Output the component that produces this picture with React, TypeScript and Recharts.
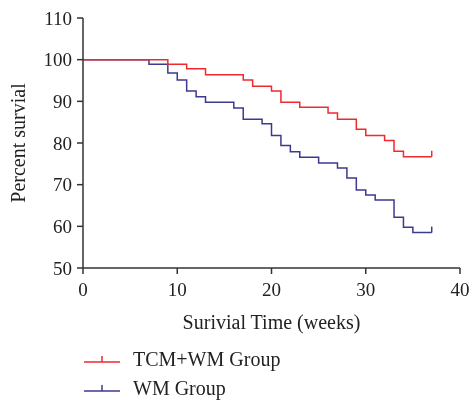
import { Line, LineChart, XAxis, YAxis } from 'recharts'

const RED = '#ee2a2e'
const BLUE = '#3d3a8e'
const FONT = '"Liberation Serif", "DejaVu Serif", serif'

// weeks at which each curve steps down, with the survival % after the step
const tcmWeeks = [0, 9, 11, 13, 17, 18, 20, 21, 23, 26, 27, 29, 30, 32, 33, 34, 37]
const tcmSurvival = [100, 98.9, 97.8, 96.4, 95.1, 93.6, 92.5, 89.8, 88.6, 87.2, 85.7, 83.3, 81.8, 80.6, 78.0, 76.7, 76.7]

const wmWeeks = [0, 7, 9, 10, 11, 12, 13, 16, 17, 19, 20, 21, 22, 23, 25, 27, 28, 29, 30, 31, 33, 34, 35, 37]
const wmSurvival = [100, 98.9, 96.8, 95.1, 92.5, 91.1, 89.8, 88.4, 85.7, 84.6, 81.8, 79.4, 77.9, 76.6, 75.2, 74.0, 71.6, 68.7, 67.5, 66.3, 62.2, 59.8, 58.5, 58.5]

const xTicks = [0, 10, 20, 30, 40]
const yTicks = [50, 60, 70, 80, 90, 100, 110]

const seriesNames = ['TCM+WM Group', 'WM Group']

const tcmData = tcmWeeks.map((t, i) => ({ t, v: tcmSurvival[i] }))
const wmData = wmWeeks.map((t, i) => ({ t, v: wmSurvival[i] }))

// censor tick drawn only on the last point
function censorDot(color: string, lastIndex: number) {
  return (props: any) => {
    const { cx, cy, index } = props
    if (index !== lastIndex) return <g key={`d${index}`} />
    return (
      <line
        key={`d${index}`}
        x1={cx}
        x2={cx}
        y1={cy}
        y2={cy - 6}
        stroke={color}
        strokeWidth={1.5}
      />
    )
  }
}

function LegendItem({ color, label }: { color: string; label: string }) {
  return (
    <div style={{ display: 'flex', alignItems: 'center', height: 29 }}>
      <svg width={36} height={12} style={{ marginRight: 13 }}>
        <line x1={0} x2={36} y1={9} y2={9} stroke={color} strokeWidth={1.5} />
        <line x1={18} x2={18} y1={9} y2={3} stroke={color} strokeWidth={1.5} />
      </svg>
      <span style={{ fontFamily: FONT, fontSize: 20, color: '#222', lineHeight: '20px' }}>
        {label}
      </span>
    </div>
  )
}

export default function App() {
  return (
    <div style={{ position: 'fixed', left: 0, top: 0, width: 472, height: 400 }}>
      <LineChart
        width={472}
        height={400}
        margin={{ top: 18, right: 12, left: 13, bottom: 52 }}
      >
        <XAxis
          type="number"
          dataKey="t"
          domain={[0, 40]}
          ticks={xTicks}
          height={80}
          tickSize={6}
          tickMargin={9}
          stroke="#333"
          strokeWidth={1.5}
          tick={{ fill: '#222', fontFamily: FONT, fontSize: 19 }}
          label={{
            value: 'Surivial Time (weeks)',
            position: 'insideBottom',
            offset: 19,
            fill: '#222',
            fontFamily: FONT,
            fontSize: 20,
          }}
        />
        <YAxis
          type="number"
          domain={[50, 110]}
          ticks={yTicks}
          width={70}
          tickSize={6}
          tickMargin={5}
          stroke="#333"
          strokeWidth={1.5}
          tick={{ fill: '#222', fontFamily: FONT, fontSize: 19 }}
          label={{
            value: 'Percent survial',
            angle: -90,
            position: 'insideLeft',
            offset: 5,
            style: { textAnchor: 'middle' },
            fill: '#222',
            fontFamily: FONT,
            fontSize: 20,
          }}
        />
        <Line
          data={wmData}
          dataKey="v"
          type="stepAfter"
          stroke={BLUE}
          strokeWidth={1.5}
          dot={censorDot(BLUE, wmData.length - 1)}
          activeDot={false}
          isAnimationActive={false}
        />
        <Line
          data={tcmData}
          dataKey="v"
          type="stepAfter"
          stroke={RED}
          strokeWidth={1.5}
          dot={censorDot(RED, tcmData.length - 1)}
          activeDot={false}
          isAnimationActive={false}
        />
      </LineChart>
      <div style={{ position: 'absolute', left: 84, top: 344 }}>
        <LegendItem color={RED} label={seriesNames[0]} />
        <LegendItem color={BLUE} label={seriesNames[1]} />
      </div>
    </div>
  )
}
